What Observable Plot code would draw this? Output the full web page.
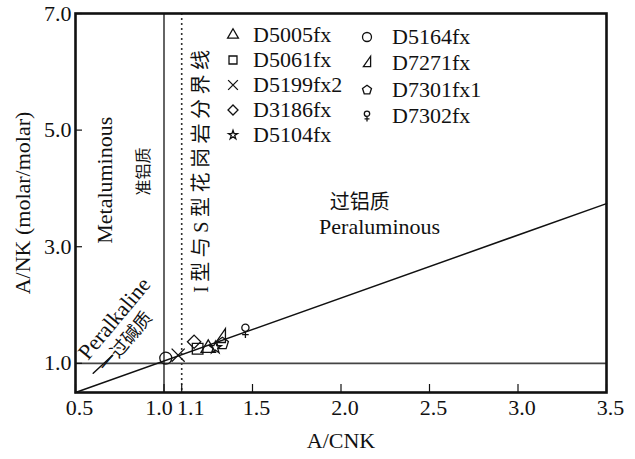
<!DOCTYPE html>
<html><head><meta charset="utf-8">
<script src="https://cdn.jsdelivr.net/npm/d3@7"></script>
<script src="https://cdn.jsdelivr.net/npm/@observablehq/plot@0.6"></script>
<style>
body{margin:0;background:#fff;}
#wrap{position:relative;width:635px;height:459px;font-family:"Liberation Serif","Times New Roman","Noto Sans CJK SC",serif;}
.item{position:absolute;display:flex;align-items:center;height:26px;white-space:nowrap;font-size:22px;color:#111;}
.item svg{flex:none;}
</style></head><body><div id="wrap"></div>
<script>
// ---- data ----
const samples = ["D5005fx","D5061fx","D5199fx2","D3186fx","D5104fx","D5164fx","D7271fx","D7301fx1","D7302fx"];
const acnk = [1.25, 1.19, 1.08, 1.17, 1.29, 1.01, 1.32, 1.33, 1.46];
const ank  = [1.26, 1.25, 1.14, 1.37, 1.27, 1.09, 1.44, 1.34, 1.56];
const xTicks = [0.5, 1.0, 1.1, 1.5, 2.0, 2.5, 3.0, 3.5];
const yTicks = [1.0, 3.0, 5.0, 7.0];
const boundaryX = [0.5, 3.5];
const boundaryY = [0.5, 3.74];
const alkX = [0.60, 0.71];
const alkY = [0.83, 1.14];
const metaLine = [1.0];
const isLine = [1.1];
const unityLine = [1.0];

// ---- symbols ----
const rOf = s => Math.sqrt(s / Math.PI);
const scaled = (sym, k) => ({draw(c, s){ return sym.draw(c, s * k); }});
const halfTri = {draw(c, s){ const r = rOf(s); c.moveTo(r*0.8, -r*1.5); c.lineTo(r*0.8, r*0.8); c.lineTo(-r*0.8, r*0.8); c.closePath(); }};
const pentagon = {draw(c, s){ const r = rOf(s)*1.05; for (let k=0;k<5;k++){ const a = -Math.PI/2 + k*2*Math.PI/5; const px = r*Math.cos(a), py = r*Math.sin(a); k ? c.lineTo(px,py) : c.moveTo(px,py);} c.closePath(); }};
const female = {draw(c, s){ const r = rOf(s); const cr = r*0.6, cy = -r*0.5; c.moveTo(cr, cy); c.arc(0, cy, cr, 0, 2*Math.PI); c.moveTo(0, cy+cr); c.lineTo(0, r*1.2); c.moveTo(-r*0.55, r*0.65); c.lineTo(r*0.55, r*0.65); }};
const symbols = [scaled(d3.symbolTriangle, 0.8), d3.symbolSquare, d3.symbolTimes, d3.symbolDiamond2, scaled(d3.symbolStar, 0.4), d3.symbolCircle, halfTri, pentagon, female];

const table = samples.map((s, i) => ({sample: s, acnk: acnk[i], ank: ank[i]}));

const W = 635, H = 459, mL = 75, mR = 29, mT = 13, mB = 67;
const pw = W - mL - mR, ph = H - mT - mB;

const annotations = [
  {x: 0.669, y: 4.14, t: "Metaluminous", r: -90, fs: 22},
  {x: 0.885, y: 4.29, t: "准铝质", r: -90, fs: 16},
  {x: 1.215, y: 4.33, t: "I型与S型花岗岩分界线", r: -90, fs: 20},
  {x: 0.72, y: 1.77, t: "Peralkaline", r: -50, fs: 22},
  {x: 0.783, y: 1.37, t: "一过碱质", r: -50, fs: 18},
  {x: 2.106, y: 3.75, t: "过铝质", r: 0, fs: 20},
  {x: 2.218, y: 3.34, t: "Peraluminous", r: 0, fs: 22}
];

const fmt = d3.format(".1f");
const chart = Plot.plot({
  width: W, height: H,
  marginLeft: mL, marginRight: mR, marginTop: mT, marginBottom: mB,
  style: {fontFamily: '"Liberation Serif","Times New Roman","Noto Sans CJK SC",serif', fontSize: "22px", color: "#111", background: "white"},
  x: {domain: [0.5, 3.5]},
  y: {domain: [0.5, 7.0]},
  symbol: {domain: samples, range: symbols},
  marks: [
    Plot.ruleY(unityLine, {stroke: "#444", strokeWidth: 1.6}),
    Plot.ruleX(metaLine, {stroke: "#111", strokeWidth: 1.3}),
    Plot.ruleX(isLine, {stroke: "#333", strokeWidth: 1.6, strokeDasharray: "2,3"}),
    Plot.line(boundaryX.map((x, i) => ({x, y: boundaryY[i]})), {x: "x", y: "y", stroke: "#111", strokeWidth: 1.5}),
    Plot.line(alkX.map((x, i) => ({x, y: alkY[i]})), {x: "x", y: "y", stroke: "#111", strokeWidth: 1.5}),
    // inward ticks
    Plot.ruleX(xTicks, {x: d => d, insetTop: ph - 8, stroke: "#111", strokeWidth: 1.2}),
    Plot.ruleY(yTicks, {y: d => d, insetRight: pw - 7, stroke: "#111", strokeWidth: 1.2}),
    Plot.axisX(xTicks.filter(d => d !== 1.0 && d !== 1.1), {tickSize: 0, tickPadding: 7, tickFormat: fmt, dx: 4, label: null, fontSize: 22}),
    Plot.axisX([1.0], {tickSize: 0, tickPadding: 7, tickFormat: fmt, dx: -5, label: null, fontSize: 22}),
    Plot.axisX([1.1], {tickSize: 0, tickPadding: 7, tickFormat: fmt, dx: 9, label: null, fontSize: 22}),
    Plot.axisY(yTicks, {tickSize: 0, tickPadding: 4, tickFormat: fmt, label: null, fontSize: 22}),
    Plot.text(["A/CNK"], {frameAnchor: "bottom", lineAnchor: "middle", textAnchor: "middle", dy: 48, text: d => d, fontSize: 22}),
    Plot.text(["A/NK (molar/molar)"], {frameAnchor: "left", textAnchor: "middle", lineAnchor: "middle", dx: -53, rotate: -90, text: d => d, fontSize: 22}),
    ...annotations.map(a => Plot.text([a], {x: "x", y: "y", text: "t", rotate: a.r, fontSize: a.fs, fill: "#111"})),
    Plot.dot(table, {x: "acnk", y: "ank", symbol: "sample", r: 6, fill: "none", stroke: "#111", strokeWidth: 1.3}),
    Plot.frame({stroke: "#111", strokeWidth: 2.6})
  ]
});

const wrap = document.getElementById("wrap");
wrap.appendChild(chart);
// letter spacing for the I/S-type boundary label
chart.querySelectorAll("text").forEach(t => { if (t.textContent === "I型与S型花岗岩分界线") t.setAttribute("letter-spacing", "4.5"); });

// ---- legend (overlay, two columns) ----
const colX = [233, 367], textGap = [11, 16], rowY0 = [35, 37], rowStep = [25, 26.3];
samples.forEach((s, i) => {
  const col = i < 5 ? 0 : 1, row = col ? i - 5 : i;
  const div = document.createElement("div");
  div.className = "item";
  div.style.left = (colX[col] - 9) + "px";
  div.style.top = (rowY0[col] + row * rowStep[col] - 13) + "px";
  const svg = d3.create("svg").attr("width", 18).attr("height", 18).attr("viewBox", "-9 -9 18 18");
  svg.append("path").attr("d", d3.symbol(symbols[i], 4.5 * 4.5 * Math.PI)()).attr("fill", "none").attr("stroke", "#111").attr("stroke-width", 1.3);
  div.appendChild(svg.node());
  const span = document.createElement("span");
  span.style.marginLeft = textGap[col] + "px";
  span.textContent = s;
  div.appendChild(span);
  wrap.appendChild(div);
});
</script></body></html>
